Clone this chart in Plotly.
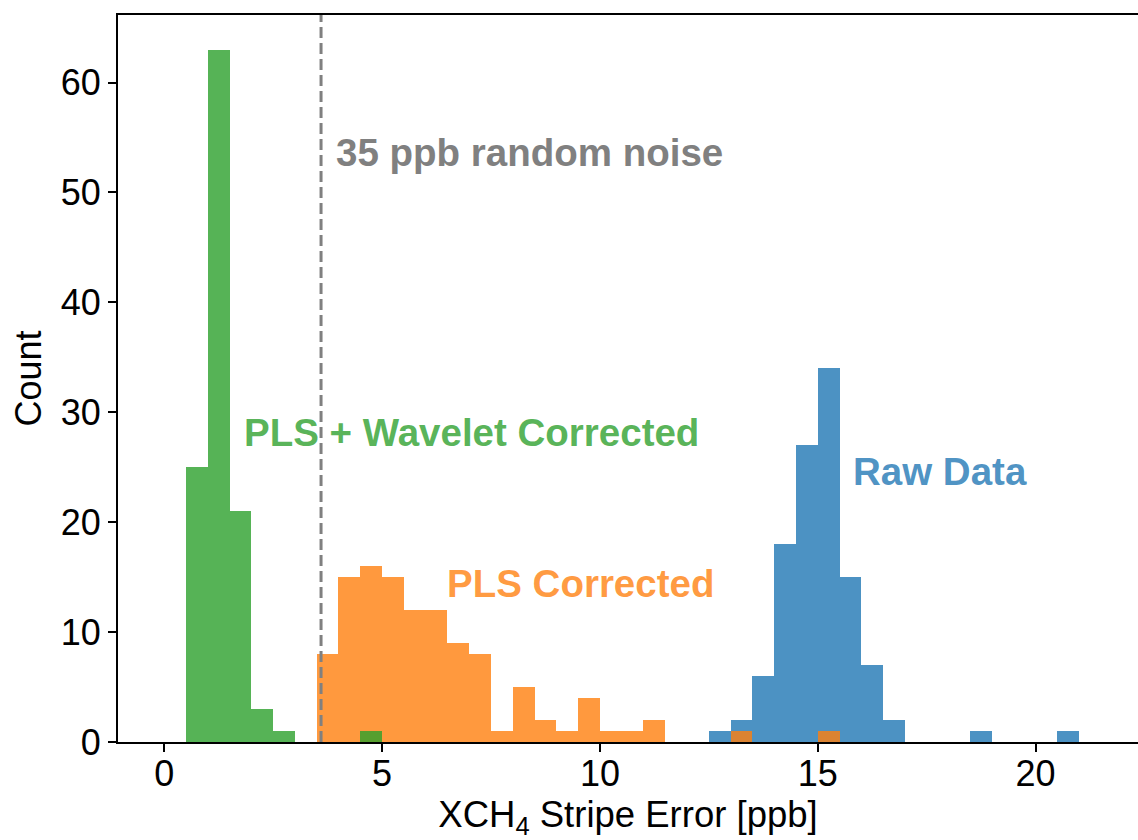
import plotly.graph_objects as go

# Histogram bins are 0.5 ppb wide; values below are counts per bin (left edge given)
BIN_WIDTH = 0.5

raw_edges = [12.5, 13.0, 13.5, 14.0, 14.5, 15.0, 15.5, 16.0, 16.5, 18.5, 20.5]
raw_counts = [1, 2, 6, 18, 27, 34, 15, 7, 2, 1, 1]

pls_edges = [3.5, 4.0, 4.5, 5.0, 5.5, 6.0, 6.5, 7.0, 7.5, 8.0, 8.5, 9.0, 9.5,
             10.0, 10.5, 11.0, 13.0, 15.0]
pls_counts = [8, 15, 16, 15, 12, 12, 9, 8, 1, 5, 2, 1, 4, 1, 1, 2, 1, 1]

wav_edges = [0.5, 1.0, 1.5, 2.0, 2.5, 4.5]
wav_counts = [25, 63, 21, 3, 1, 1]

noise_level = 3.6  # ppb, stripe error equivalent of 35 ppb random noise

x_ticks = [0, 5, 10, 15, 20]
y_ticks = [0, 10, 20, 30, 40, 50, 60]

BLUE = "rgba(31,119,180,0.8)"
ORANGE = "rgba(255,127,14,0.8)"
GREEN = "rgba(44,160,44,0.8)"
GREY = "#808080"
FONT = "Liberation Sans, Arial, Helvetica, sans-serif"

fig = go.Figure()
for edges, counts, color, name in [
    (raw_edges, raw_counts, BLUE, "Raw Data"),
    (pls_edges, pls_counts, ORANGE, "PLS Corrected"),
    (wav_edges, wav_counts, GREEN, "PLS + Wavelet Corrected"),
]:
    fig.add_trace(go.Bar(
        x=edges, y=counts, width=BIN_WIDTH, offset=0, name=name,
        marker=dict(color=color, line=dict(width=0)),
    ))

fig.add_shape(type="line", x0=noise_level, x1=noise_level, y0=0, y1=1,
              xref="x", yref="paper",
              line=dict(color=GREY, width=3, dash="11px,5px"))

labels = [
    ("35 ppb random noise", 3.9, 53.6, GREY),
    ("PLS + Wavelet Corrected", 1.78, 28.2, GREEN),
    ("PLS Corrected", 6.45, 14.4, ORANGE),
    ("Raw Data", 15.77, 24.6, BLUE),
]
for text, x, y, color in labels:
    fig.add_annotation(x=x, y=y, text=f"<b>{text}</b>", showarrow=False,
                       xanchor="left", yanchor="middle",
                       font=dict(family=FONT, size=38.5, color=color))

fig.update_layout(
    width=1138, height=840,
    margin=dict(l=118, r=0, t=15, b=98),
    paper_bgcolor="white", plot_bgcolor="white",
    barmode="overlay", bargap=0, showlegend=False,
    font=dict(family=FONT, size=36, color="black"),
)
fig.update_xaxes(
    range=[-1.06, 22.35], tickvals=x_ticks, showgrid=False, zeroline=False,
    showline=True, linecolor="black", linewidth=2, mirror=True,
    ticks="outside", ticklen=8, tickwidth=2, tickcolor="black",
    tickfont=dict(size=36), ticklabelstandoff=-9,
    title=dict(text="XCH<sub>4</sub> Stripe Error [ppb]", font=dict(size=36.5), standoff=17),
)
fig.update_yaxes(
    range=[0, 66.15], tickvals=y_ticks, showgrid=False, zeroline=False,
    showline=True, linecolor="black", linewidth=2,
    ticks="outside", ticklen=8, tickwidth=2, tickcolor="black",
    tickfont=dict(size=36),
    title=dict(text="Count", font=dict(size=36), standoff=8),
)

fig.write_html("out.html")
